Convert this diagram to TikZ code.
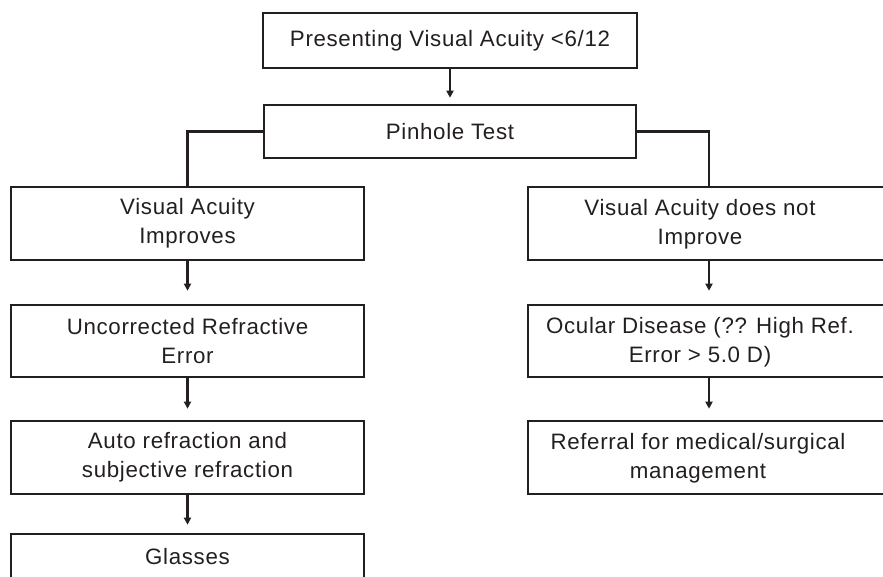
\documentclass[tikz,border=0pt]{standalone}
\usepackage{fontspec}
\setmainfont{Liberation Sans}[LetterSpace=3]
\usetikzlibrary{arrows.meta}
\definecolor{ink}{HTML}{231F20}
\begin{document}
\begin{tikzpicture}[x=1pt,y=-1pt,
  box/.style={draw=ink,line width=2.6pt,inner sep=0pt,align=center,
    font=\fontsize{22.3}{29}\selectfont,text=ink},
  lbl/.style={inner sep=0pt,align=center,font=\fontsize{22.3}{29}\selectfont,text=ink},
  conn/.style={draw=ink,line width=2.6pt},
  arr/.style={conn,-{Triangle[length=7pt,width=7pt]}}]
\useasboundingbox (0,0) rectangle (883,576);
\clip (0,0) rectangle (883,576);
\node[box,minimum width=374pt,minimum height=55pt] (pva) at (450,40.5) {Presenting Visual Acuity <6/12};
\node[box,minimum width=372pt,minimum height=53pt] (pin) at (450,131.5) {Pinhole Test};
% left column
\node[box,minimum width=353pt,minimum height=73pt] (l1) at (187.5,223.5) {Visual Acuity\\Improves};
\node[box,minimum width=353pt,minimum height=72pt] (l2) at (187.5,341) {Uncorrected Refractive\\Error};
\node[box,minimum width=353pt,minimum height=73pt] (l3) at (187.5,457.5) {Auto refraction and\\subjective refraction};
\node[box,minimum width=353pt,minimum height=46pt] (l4) at (187.5,557) {Glasses};
% right column
\node[box,minimum width=362pt,minimum height=73pt] (r1) at (709,223.5) {};
\node[lbl] (r1t) at (700,224) {Visual Acuity does not\\Improve};
\node[box,minimum width=362pt,minimum height=72pt] (r2) at (709,341) {};
\node[lbl] (r2t) at (700,342) {Ocular Disease (?? High Ref.\\Error > 5.0 D)};
\node[box,minimum width=362pt,minimum height=73pt] (r3) at (709,457.5) {};
\node[lbl] (r3t) at (698,458) {Referral for medical/surgical\\management};
% connectors
\draw[arr] (pva.south) -- ([yshift=6pt]pin.north);
\draw[conn] (pin.west) -| (l1.north);
\draw[conn] (pin.east) -| (r1.north);
\draw[arr] (l1.south) -- ([yshift=13pt]l2.north);
\draw[arr] (l2.south) -- ([yshift=11pt]l3.north);
\draw[arr] (l3.south) -- ([yshift=8pt]l4.north);
\draw[arr] (r1.south) -- ([yshift=13pt]r2.north);
\draw[arr] (r2.south) -- ([yshift=11pt]r3.north);
\end{tikzpicture}
\end{document}
